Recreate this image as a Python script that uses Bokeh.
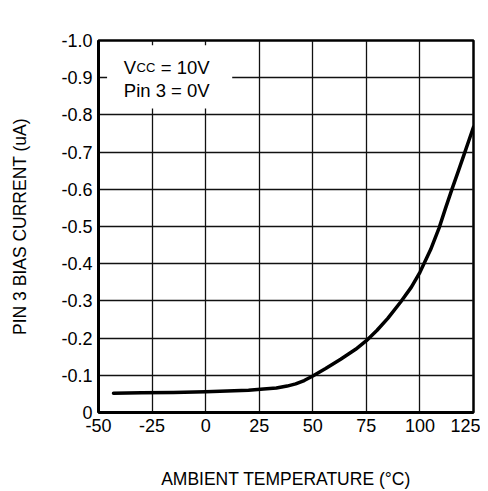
from bokeh.plotting import figure
from bokeh.models import Range1d, FixedTicker, CustomJSTickFormatter, Label, BoxAnnotation
from bokeh.embed import file_html
from bokeh.resources import INLINE

# ---- data ----
temperature = [-43, -30, -15, 0, 10, 20, 27, 33, 38, 42, 46, 50, 56, 63, 70, 75,
               80, 85, 91, 96, 100, 105, 109, 112, 115, 118, 120.5, 123, 125]
bias_current = [-0.052, -0.053, -0.054, -0.056, -0.058, -0.060, -0.063, -0.066,
                -0.071, -0.077, -0.086, -0.098, -0.118, -0.143, -0.170, -0.193,
                -0.221, -0.253, -0.297, -0.337, -0.377, -0.438, -0.497, -0.550,
                -0.601, -0.650, -0.692, -0.734, -0.767]
x_ticks = [-50, -25, 0, 25, 50, 75, 100, 125]
y_ticks = [0, -0.1, -0.2, -0.3, -0.4, -0.5, -0.6, -0.7, -0.8, -0.9, -1.0]
title_text = "Pin 3 Bias Current vs Temperature"
x_label = "AMBIENT TEMPERATURE (°C)"
y_label = "PIN 3 BIAS CURRENT (uA)"
note_v = "V"
note_cc = "CC"
note_rest = "= 10V"
note_line2 = "Pin 3 = 0V"

FONT = "Liberation Sans"

p = figure(width=480, height=491, output_backend="svg", toolbar_location=None,
           x_range=Range1d(-50, 125), y_range=Range1d(0, -1.0),
           min_border_left=98, min_border_right=7, min_border_top=40,
           min_border_bottom=78, background_fill_color="white",
           border_fill_color="white")

p.outline_line_color = "black"
p.outline_line_width = 2.5

for ax in (p.xaxis, p.yaxis):
    ax.major_tick_in = 0
    ax.major_tick_out = 0
    ax.minor_tick_line_color = None
    ax.axis_line_color = "black"
    ax.axis_line_width = 3
    ax.major_label_text_font = FONT
    ax.major_label_text_font_size = "18px"
    ax.major_label_text_color = "black"
    ax.axis_label_text_font = FONT
    ax.axis_label_text_font_size = "17.5px"
    ax.axis_label_text_font_style = "normal"
    ax.axis_label_text_color = "black"

p.xaxis.ticker = FixedTicker(ticks=x_ticks)
p.yaxis.ticker = FixedTicker(ticks=y_ticks)
p.xaxis.formatter = CustomJSTickFormatter(code="return tick.toFixed(0);")
p.yaxis.formatter = CustomJSTickFormatter(code="return Math.abs(tick) < 1e-9 ? '0' : tick.toFixed(1);")
p.xaxis.axis_label = x_label
p.yaxis.axis_label = y_label
p.xaxis.major_label_standoff = 6
p.yaxis.major_label_standoff = 6
p.xaxis.axis_label_standoff = 34
p.yaxis.axis_label_standoff = 28

p.xgrid.ticker = FixedTicker(ticks=x_ticks)
p.ygrid.ticker = FixedTicker(ticks=y_ticks)
for g in (p.xgrid, p.ygrid):
    g.grid_line_color = "#111111"
    g.grid_line_width = 1.3
    g.grid_line_alpha = 1.0

p.line(temperature, bias_current, line_color="black", line_width=3.5,
       line_join="round", line_cap="round")

# conditions box
p.add_layout(BoxAnnotation(left=-46, right=12.4, top=-0.987, bottom=-0.817,
                           fill_color="white", fill_alpha=1.0, line_color=None,
                           level="annotation"))
p.add_layout(Label(x=-38.2, y=-0.927, text=note_v, text_font=FONT,
                   text_font_size="18.5px", text_baseline="alphabetic",
                   text_color="black"))
p.add_layout(Label(x=-38.2, y=-0.927, x_offset=12.8, text=note_cc, text_font=FONT,
                   text_font_size="13px", text_baseline="alphabetic",
                   text_color="black"))
p.add_layout(Label(x=-38.2, y=-0.927, x_offset=37, text=note_rest, text_font=FONT,
                   text_font_size="18.5px", text_baseline="alphabetic",
                   text_color="black"))
p.add_layout(Label(x=-38.2, y=-0.865, text=note_line2, text_font=FONT,
                   text_font_size="18.5px", text_baseline="alphabetic",
                   text_color="black"))

# title
p.add_layout(Label(x=41.2, y=-1.0, x_offset=0, y_offset=22, text=title_text, text_font=FONT,
                   text_font_size="21px", text_font_style="bold",
                   text_align="center", text_baseline="middle",
                   text_color="black"))

open("out.html", "w").write(file_html(p, INLINE))
